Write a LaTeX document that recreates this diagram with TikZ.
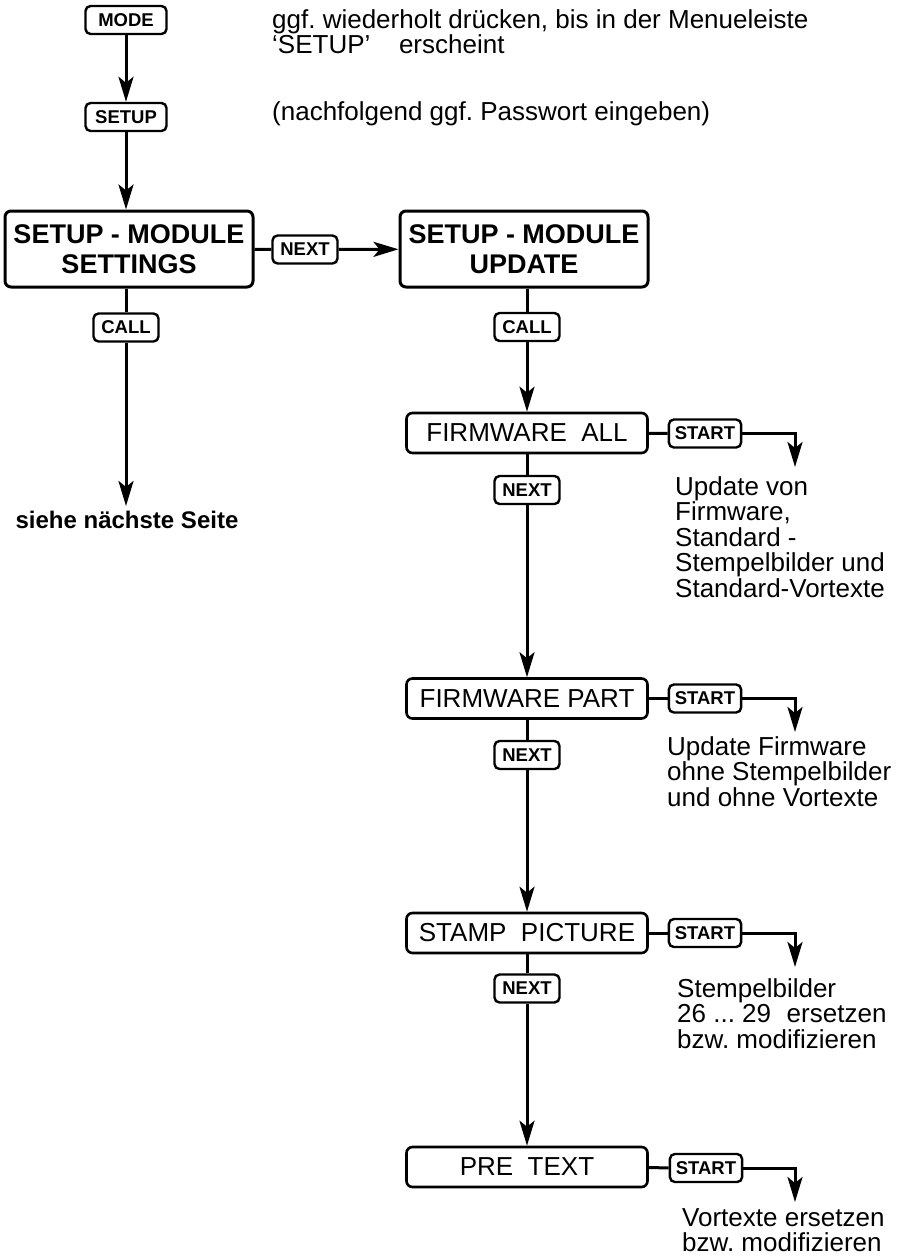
\documentclass[tikz,border=0pt]{standalone}
\usepackage{fontspec}
\setmainfont{Liberation Sans}
\usetikzlibrary{arrows.meta}
\frenchspacing

\begin{document}
\begin{tikzpicture}[x=1pt,y=-1pt]
%============================================================
%  Estilos das caixas, botoes e setas do menu
%============================================================
\tikzset{ % Importante:
          % Linha em branco nessa secao da erro de compilacao!
    % ---  Define linhas ------
    >={Stealth[length=25pt,width=15pt,inset=6pt]},
    linha/.style={ %
            -,                % sem terminacao
            line width=3pt    % linha grossa
        },
    seta/.style={  %
            ->,               % com seta no final
            line width=3pt    % linha grossa
        },
    % ---  Define caixas ------
    caixaGrande/.style={ %
            rectangle, rounded corners=6pt,
            draw=black, line width=3pt,
            minimum width=248pt, minimum height=76pt,
            align=center,
            font=\bfseries\fontsize{27}{30}\selectfont
        },
    caixa/.style={ %
            rectangle, rounded corners=6pt,
            draw=black, line width=2.6pt,
            minimum width=241pt, minimum height=40pt,
            font=\fontsize{26}{30}\selectfont
        },
    botao/.style={ %
            rectangle, rounded corners=5pt,
            draw=black, line width=2.4pt,
            inner xsep=6pt, inner ysep=0pt,
            minimum height=28pt, minimum width=65pt,
            font=\bfseries\fontsize{18.5}{20}\selectfont
        },
    texto/.style={      %
            inner sep=0pt, align=left,
            font=\fontsize{26}{25.5}\selectfont
        },
}
   % area da figura
   \useasboundingbox (0,0) rectangle (904,1260);

   % coluna da esquerda
   \node[botao,minimum width=81pt] (mode) at (126,20) {MODE};
   \node[botao,minimum width=81pt] (setup) at (126,117) {SETUP};
   \node[caixaGrande] (settings) at (129,249) {SETUP - MODULE\\SETTINGS};
   \node[botao] (call1) at (126,327.5) {CALL};
   \node[texto,inner sep=5pt,font=\bfseries\fontsize{24}{26}\selectfont] (siehe) at (127,520) {siehe nächste Seite};

   % textos de ajuda
   \node[texto,anchor=north west] (hinweis1) at (272,9) {ggf. wiederholt drücken, bis in der Menueleiste\\‘SETUP’\hspace{1.1em}erscheint};
   \node[texto,anchor=west] (hinweis2) at (272,114) {(nachfolgend ggf. Passwort eingeben)};

   % coluna da direita
   \node[botao] (next1) at (305,249.5) {NEXT};
   \node[caixaGrande] (update) at (524,249) {SETUP - MODULE\\UPDATE};
   \node[botao] (call2) at (527,327) {CALL};
   \node[caixa] (fwAll) at (527,433) {FIRMWARE\ \ ALL};
   \node[botao] (start1) at (705,433.5) {START};
   \node[botao] (next2) at (527,490) {NEXT};
   \node[caixa] (fwPart) at (527,698.5) {FIRMWARE PART};
   \node[botao] (start2) at (705,698.5) {START};
   \node[botao] (next3) at (527,755) {NEXT};
   \node[caixa] (stamp) at (527,933) {STAMP\ \ PICTURE};
   \node[botao] (start3) at (705,933) {START};
   \node[botao] (next4) at (527,988.5) {NEXT};
   \node[caixa] (preText) at (527,1167) {PRE\ \ TEXT};
   \node[botao] (start4) at (706,1168) {START};

   % pontas das setas de START
   \coordinate (ponta1) at (795,467);
   \coordinate (ponta2) at (795,732);
   \coordinate (ponta3) at (795,967);
   \coordinate (ponta4) at (795,1202);

   % descricoes
   \node[texto,anchor=north west] (desc1) at (675,476) {Update von\\Firmware,\\Standard -\\Stempelbilder und\\Standard-Vortexte};
   \node[texto,anchor=north west] (desc2) at (667,736) {Update Firmware\\ohne Stempelbilder\\und ohne Vortexte};
   \node[texto,anchor=north west] (desc3) at (677,978) {Stempelbilder\\26 ... 29\hspace{0.6em}ersetzen\\bzw. modifizieren};
   \node[texto,anchor=north west] (desc4) at (682,1208) {Vortexte ersetzen\\bzw. modifizieren};

   % ligacoes
   \draw[seta] (mode) edge (setup);
   \draw[seta] (setup) -- (setup |- settings.north);
   \draw[linha] (settings) -- (next1);
   \draw[seta] (next1) -- (update);
   \draw[linha] (settings.south -| call1) -- (call1);
   \draw[seta] (call1) -- (call1 |- siehe.north);
   \draw[linha] (update.south -| call2) -- (call2);
   \draw[seta] (call2) -- (fwAll);
   \draw[linha] (fwAll) -- (start1);
   \draw[seta] (start1) -| (ponta1);
   \draw[linha] (fwAll) -- (next2);
   \draw[seta] (next2) -- (fwPart);
   \draw[linha] (fwPart) -- (start2);
   \draw[seta] (start2) -| (ponta2);
   \draw[linha] (fwPart) -- (next3);
   \draw[seta] (next3) -- (stamp);
   \draw[linha] (stamp) -- (start3);
   \draw[seta] (start3) -| (ponta3);
   \draw[linha] (stamp) -- (next4);
   \draw[seta] (next4) -- (preText);
   \draw[linha] (preText) -- (start4);
   \draw[seta] (start4) -| (ponta4);
\end{tikzpicture}
\end{document}
